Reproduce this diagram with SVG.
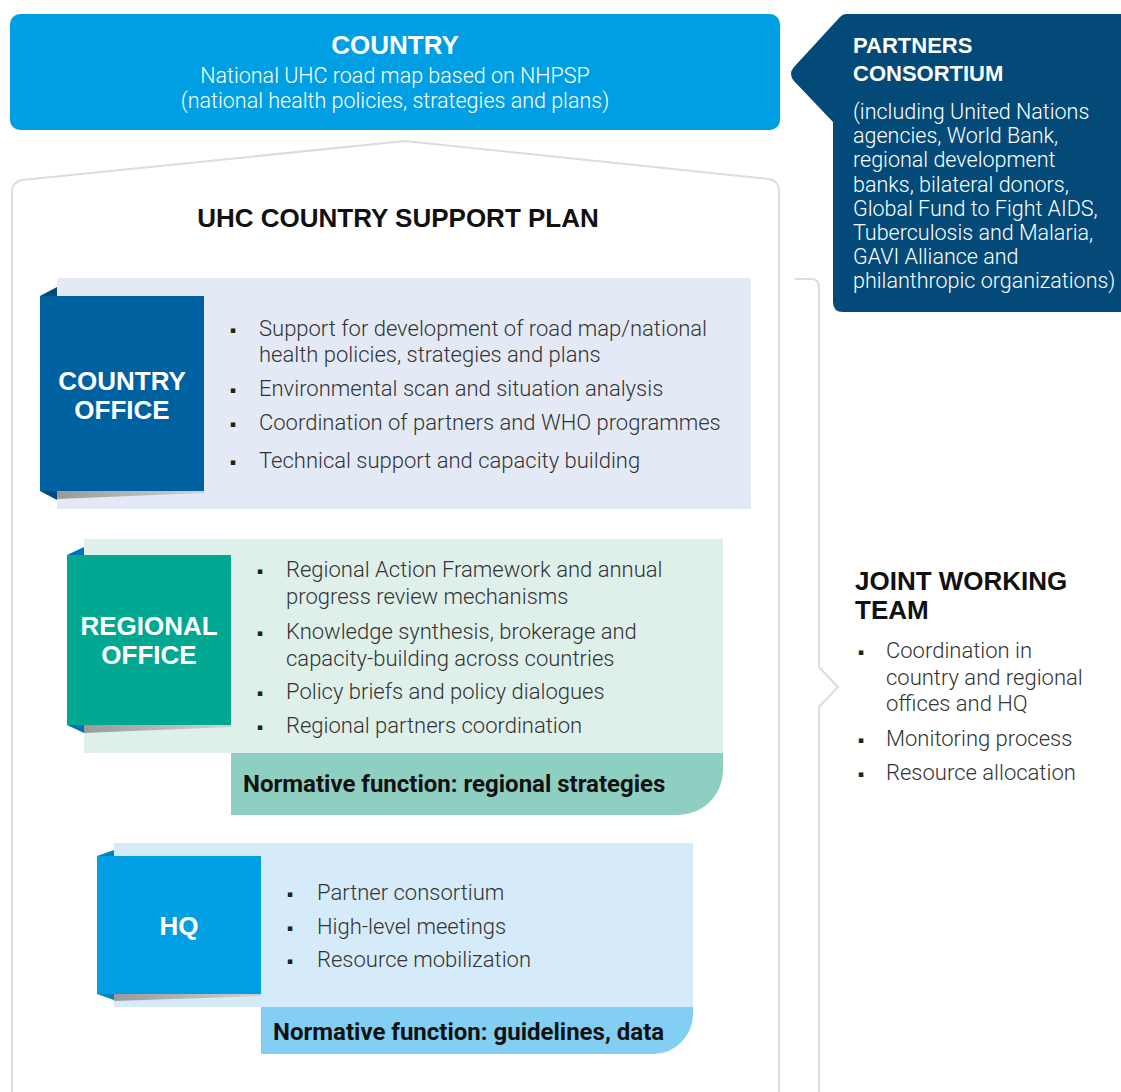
<svg xmlns="http://www.w3.org/2000/svg" width="1121" height="1092" viewBox="0 0 1121 1092">
<defs>
<style>
.head{font-family:"Liberation Sans",Arial,sans-serif;font-weight:bold;font-size:26px}
.w{fill:#ffffff}
.dk{fill:#111111}
.body{font-family:Roboto,"Liberation Sans",sans-serif;font-size:22px;font-weight:300;fill:#333333}
.wb{font-family:Roboto,"Liberation Sans",sans-serif;font-size:21.5px;font-weight:300;fill:#ffffff}
.bul{font-family:"DejaVu Sans",sans-serif;font-size:9px;fill:#222222}
.norm{font-family:Roboto,"Liberation Sans",sans-serif;font-weight:bold;font-size:24px;fill:#111111}
.line{fill:none;stroke:#dcdcdc;stroke-width:2}
</style>
<linearGradient id="shad" x1="0" y1="0" x2="1" y2="0">
<stop offset="0" stop-color="#9a9a9a"/>
<stop offset="1" stop-color="#d0d0d0"/>
</linearGradient>
</defs>
<rect width="1121" height="1092" fill="#ffffff"/>

<g id="connectors">
<path class="line" d="M12,1092 V192 Q12,182 22,180 L405,141 L769,179 Q779,181 779,191 V1092"/>
<path class="line" d="M795,279 H811 Q819,279 819,287 V667 L838,687 L819,707 V1092"/>
</g>

<g id="country">
<rect x="10" y="14" width="770" height="116" rx="10" fill="#009FE3"/>
<text class="head w" x="395" y="54" text-anchor="middle">COUNTRY</text>
<text class="wb" x="395" y="83" text-anchor="middle">National UHC road map based on NHPSP</text>
<text class="wb" x="395" y="108" text-anchor="middle">(national health policies, strategies and plans)</text>
</g>

<g id="partners">
<path d="M846,14 H1121 V312 H843 Q833,312 833,302 V122 L794,81 Q788,74 794,67 L840,17 Q843,14 846,14 Z" fill="#034A78"/>
<text class="head w" x="853" y="53" style="font-size:22px">PARTNERS</text>
<text class="head w" x="853" y="81" style="font-size:22px">CONSORTIUM</text>
<text class="wb" x="853" y="119">(including United Nations</text>
<text class="wb" x="853" y="143">agencies, World Bank,</text>
<text class="wb" x="853" y="167">regional development</text>
<text class="wb" x="853" y="192">banks, bilateral donors,</text>
<text class="wb" x="853" y="216">Global Fund to Fight AIDS,</text>
<text class="wb" x="853" y="240">Tuberculosis and Malaria,</text>
<text class="wb" x="853" y="264">GAVI Alliance and</text>
<text class="wb" x="853" y="288">philanthropic organizations)</text>
</g>

<g id="plan-title">
<text class="head dk" x="398" y="227" text-anchor="middle">UHC COUNTRY SUPPORT PLAN</text>
</g>

<g id="country-office">
<rect x="57" y="278" width="694" height="231" fill="#E3EAF6"/>
<polygon points="57,491 204,491 204,493 57,499" fill="url(#shad)"/>
<polygon points="40,296 57,287 57,296" fill="#004A80"/>
<polygon points="40,491 57,500 57,491" fill="#004A80"/>
<rect x="40" y="296" width="164" height="195" fill="#0061A1"/>
<text class="head w" x="122" y="390" text-anchor="middle">COUNTRY</text>
<text class="head w" x="122" y="419" text-anchor="middle">OFFICE</text>
<text class="bul" x="230" y="333">▪</text>
<text class="body" x="259" y="336">Support for development of road map/national</text>
<text class="body" x="259" y="362">health policies, strategies and plans</text>
<text class="bul" x="230" y="393">▪</text>
<text class="body" x="259" y="396">Environmental scan and situation analysis</text>
<text class="bul" x="230" y="427">▪</text>
<text class="body" x="259" y="430">Coordination of partners and WHO programmes</text>
<text class="bul" x="230" y="465">▪</text>
<text class="body" x="259" y="468">Technical support and capacity building</text>
</g>

<g id="regional-office">
<rect x="84" y="539" width="639" height="214" fill="#DFF0EB"/>
<path d="M231,753 H723 V770 A45,45 0 0 1 678,815 H231 Z" fill="#8FCFC2"/>
<polygon points="84,725 231,725 231,727 84,733" fill="url(#shad)"/>
<polygon points="67,555 84,547 84,555" fill="#0072BC"/>
<polygon points="67,725 84,733 84,725" fill="#0072BC"/>
<rect x="67" y="555" width="164" height="170" fill="#00A891"/>
<text class="head w" x="149" y="635" text-anchor="middle">REGIONAL</text>
<text class="head w" x="149" y="664" text-anchor="middle">OFFICE</text>
<text class="bul" x="257" y="574">▪</text>
<text class="body" x="286" y="577">Regional Action Framework and annual</text>
<text class="body" x="286" y="604">progress review mechanisms</text>
<text class="bul" x="257" y="636">▪</text>
<text class="body" x="286" y="639">Knowledge synthesis, brokerage and</text>
<text class="body" x="286" y="666">capacity-building across countries</text>
<text class="bul" x="257" y="696">▪</text>
<text class="body" x="286" y="699">Policy briefs and policy dialogues</text>
<text class="bul" x="257" y="730">▪</text>
<text class="body" x="286" y="733">Regional partners coordination</text>
<text class="norm" x="243" y="792">Normative function: regional strategies</text>
</g>

<g id="hq">
<rect x="114" y="843" width="579" height="164" fill="#D5EBFA"/>
<path d="M261,1007 H693 V1014 A40,40 0 0 1 653,1054 H261 Z" fill="#83CFF4"/>
<polygon points="114,994 261,994 261,996 114,1001" fill="url(#shad)"/>
<polygon points="97,856 114,850 114,856" fill="#0083C0"/>
<polygon points="97,994 114,1000 114,994" fill="#0083C0"/>
<rect x="97" y="856" width="164" height="138" fill="#009EE2"/>
<text class="head w" x="179" y="935" text-anchor="middle">HQ</text>
<text class="bul" x="287" y="897">▪</text>
<text class="body" x="317" y="900">Partner consortium</text>
<text class="bul" x="287" y="931">▪</text>
<text class="body" x="317" y="934">High-level meetings</text>
<text class="bul" x="287" y="964">▪</text>
<text class="body" x="317" y="967">Resource mobilization</text>
<text class="norm" x="273" y="1040">Normative function: guidelines, data</text>
</g>

<g id="joint-working-team">
<text class="head dk" x="855" y="590">JOINT WORKING</text>
<text class="head dk" x="855" y="619">TEAM</text>
<text class="bul" x="858" y="655">▪</text>
<text class="body" x="886" y="658">Coordination in</text>
<text class="body" x="886" y="685">country and regional</text>
<text class="body" x="886" y="711">offices and HQ</text>
<text class="bul" x="858" y="743">▪</text>
<text class="body" x="886" y="746">Monitoring process</text>
<text class="bul" x="858" y="777">▪</text>
<text class="body" x="886" y="780">Resource allocation</text>
</g>
</svg>
